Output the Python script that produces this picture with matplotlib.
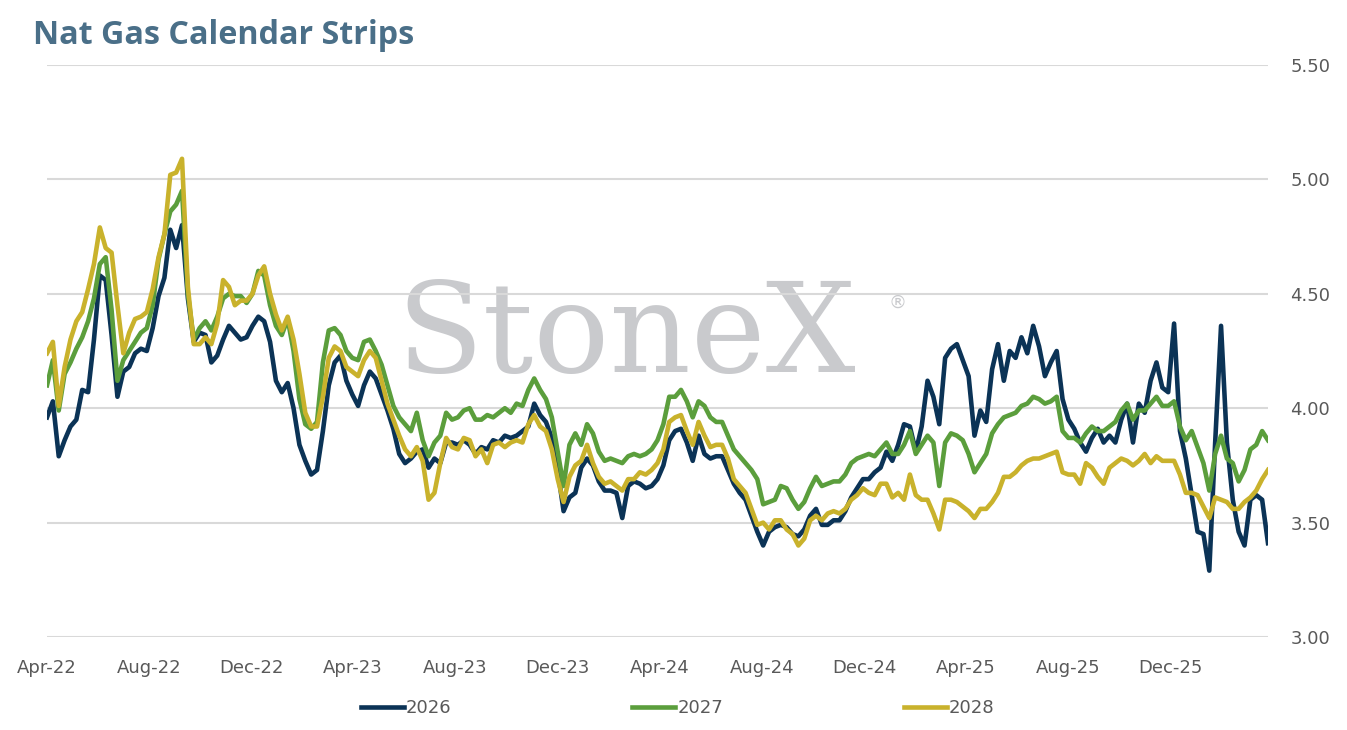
import matplotlib
matplotlib.use('Agg')
import matplotlib.pyplot as plt
import matplotlib.dates as mdates
import numpy as np
import pandas as pd

# weekly closes, Apr-22 .. Mar-26
dates = pd.date_range('2022-04-01', periods=209, freq='7D')

cal_2026 = [
    3.96, 4.03, 3.79, 3.86, 3.92, 3.95, 4.08, 4.07, 4.30, 4.58,
    4.56, 4.32, 4.05, 4.16, 4.18, 4.24, 4.26, 4.25, 4.35, 4.49,
    4.57, 4.78, 4.70, 4.80, 4.48, 4.29, 4.33, 4.32, 4.20, 4.23,
    4.30, 4.36, 4.33, 4.30, 4.31, 4.36, 4.40, 4.38, 4.29, 4.12,
    4.07, 4.11, 4.00, 3.84, 3.77, 3.71, 3.73, 3.90, 4.10, 4.20,
    4.23, 4.12, 4.06, 4.01, 4.10, 4.16, 4.13, 4.06, 3.99, 3.91,
    3.80, 3.76, 3.78, 3.81, 3.82, 3.74, 3.78, 3.76, 3.85, 3.85,
    3.84, 3.86, 3.84, 3.80, 3.83, 3.82, 3.86, 3.85, 3.88, 3.87,
    3.88, 3.90, 3.92, 4.02, 3.97, 3.94, 3.87, 3.73, 3.55, 3.61,
    3.63, 3.74, 3.78, 3.75, 3.68, 3.64, 3.64, 3.63, 3.52, 3.66,
    3.68, 3.67, 3.65, 3.66, 3.69, 3.75, 3.86, 3.90, 3.91, 3.85,
    3.77, 3.88, 3.80, 3.78, 3.79, 3.79, 3.73, 3.67, 3.63, 3.60,
    3.53, 3.46, 3.40, 3.46, 3.48, 3.49, 3.48, 3.45, 3.44, 3.47,
    3.53, 3.56, 3.49, 3.49, 3.51, 3.51, 3.55, 3.61, 3.65, 3.69,
    3.69, 3.72, 3.74, 3.81, 3.77, 3.84, 3.93, 3.92, 3.81, 3.92,
    4.12, 4.05, 3.93, 4.22, 4.26, 4.28, 4.21, 4.14, 3.88, 3.99,
    3.94, 4.17, 4.28, 4.12, 4.25, 4.22, 4.31, 4.24, 4.36, 4.27,
    4.14, 4.20, 4.25, 4.04, 3.95, 3.91, 3.85, 3.81, 3.87, 3.91,
    3.85, 3.88, 3.85, 3.95, 4.02, 3.85, 4.02, 3.98, 4.12, 4.20,
    4.09, 4.07, 4.37, 3.90, 3.78, 3.62, 3.46, 3.45, 3.29, 3.85,
    4.36, 3.85, 3.60, 3.46, 3.40, 3.60, 3.62, 3.60, 3.41,
]

cal_2027 = [
    4.10, 4.21, 3.99, 4.15, 4.20, 4.26, 4.31, 4.38, 4.48, 4.63,
    4.66, 4.43, 4.12, 4.21, 4.25, 4.29, 4.33, 4.35, 4.45, 4.65,
    4.76, 4.86, 4.89, 4.95, 4.50, 4.30, 4.35, 4.38, 4.34, 4.40,
    4.48, 4.50, 4.49, 4.49, 4.46, 4.50, 4.60, 4.58, 4.45, 4.36,
    4.32, 4.39, 4.25, 4.04, 3.93, 3.91, 3.94, 4.20, 4.34, 4.35,
    4.32, 4.25, 4.22, 4.21, 4.29, 4.30, 4.25, 4.19, 4.10, 4.01,
    3.96, 3.93, 3.90, 3.98, 3.86, 3.79, 3.85, 3.88, 3.98, 3.95,
    3.96, 3.99, 4.00, 3.95, 3.95, 3.97, 3.96, 3.98, 4.00, 3.98,
    4.02, 4.01, 4.08, 4.13, 4.08, 4.04, 3.96, 3.81, 3.66, 3.84,
    3.89, 3.84, 3.93, 3.89, 3.81, 3.77, 3.78, 3.77, 3.76, 3.79,
    3.80, 3.79, 3.80, 3.82, 3.86, 3.93, 4.05, 4.05, 4.08, 4.03,
    3.96, 4.03, 4.01, 3.96, 3.94, 3.94, 3.88, 3.82, 3.79, 3.76,
    3.73, 3.69, 3.58, 3.59, 3.60, 3.66, 3.65, 3.60, 3.56, 3.59,
    3.65, 3.70, 3.66, 3.67, 3.68, 3.68, 3.71, 3.76, 3.78, 3.79,
    3.80, 3.79, 3.82, 3.85, 3.80, 3.80, 3.84, 3.90, 3.80, 3.84,
    3.88, 3.85, 3.66, 3.85, 3.89, 3.88, 3.86, 3.80, 3.72, 3.76,
    3.80, 3.89, 3.93, 3.96, 3.97, 3.98, 4.01, 4.02, 4.05, 4.04,
    4.02, 4.03, 4.05, 3.90, 3.87, 3.87, 3.85, 3.89, 3.92, 3.90,
    3.90, 3.92, 3.94, 3.99, 4.02, 3.95, 3.99, 3.99, 4.02, 4.05,
    4.01, 4.01, 4.03, 3.92, 3.86, 3.90, 3.83, 3.76, 3.64, 3.80,
    3.88, 3.78, 3.76, 3.68, 3.73, 3.82, 3.84, 3.90, 3.86,
]

cal_2028 = [
    4.24, 4.29, 4.01, 4.18, 4.30, 4.38, 4.42, 4.52, 4.63, 4.79,
    4.70, 4.68, 4.45, 4.24, 4.33, 4.39, 4.40, 4.42, 4.52, 4.66,
    4.76, 5.02, 5.03, 5.09, 4.53, 4.28, 4.28, 4.31, 4.28, 4.37,
    4.56, 4.53, 4.45, 4.47, 4.47, 4.50, 4.58, 4.62, 4.50, 4.41,
    4.34, 4.40, 4.30, 4.15, 3.98, 3.92, 3.92, 4.05, 4.22, 4.27,
    4.25, 4.18, 4.16, 4.14, 4.21, 4.25, 4.22, 4.12, 4.02, 3.95,
    3.88, 3.82, 3.79, 3.83, 3.77, 3.60, 3.63, 3.76, 3.87, 3.83,
    3.82, 3.87, 3.86, 3.79, 3.82, 3.76, 3.84, 3.85, 3.83, 3.85,
    3.86, 3.85, 3.93, 3.97, 3.92, 3.90, 3.82, 3.69, 3.59, 3.70,
    3.75, 3.77, 3.84, 3.76, 3.70, 3.67, 3.68, 3.66, 3.64, 3.69,
    3.69, 3.72, 3.71, 3.73, 3.76, 3.82, 3.94, 3.96, 3.97, 3.90,
    3.84, 3.94, 3.88, 3.83, 3.84, 3.84, 3.78, 3.69, 3.66, 3.63,
    3.56, 3.49, 3.50, 3.47, 3.51, 3.51, 3.47, 3.45, 3.40, 3.43,
    3.51, 3.53, 3.51, 3.54, 3.55, 3.54, 3.56, 3.60, 3.62, 3.65,
    3.63, 3.62, 3.67, 3.67, 3.61, 3.63, 3.60, 3.71, 3.62, 3.60,
    3.60, 3.54, 3.47, 3.60, 3.60, 3.59, 3.57, 3.55, 3.52, 3.56,
    3.56, 3.59, 3.63, 3.70, 3.70, 3.72, 3.75, 3.77, 3.78, 3.78,
    3.79, 3.80, 3.81, 3.72, 3.71, 3.71, 3.67, 3.76, 3.74, 3.70,
    3.67, 3.74, 3.76, 3.78, 3.77, 3.75, 3.77, 3.80, 3.76, 3.79,
    3.77, 3.77, 3.77, 3.71, 3.63, 3.63, 3.62, 3.57, 3.52, 3.61,
    3.60, 3.59, 3.56, 3.56, 3.59, 3.61, 3.64, 3.69, 3.73,
]

series = [('2026', cal_2026, '#0b3356'),
          ('2027', cal_2027, '#5b9e3c'),
          ('2028', cal_2028, '#c9b22c')]

grey = '#595959'

fig = plt.figure(figsize=(13.47, 7.30), dpi=100)
ax = fig.add_axes([47 / 1347, 1 - 637 / 730, (1268 - 47) / 1347, (637 - 65) / 730])

for label, vals, col in series:
    ax.plot(dates, vals, color=col, lw=3.3, label=label, zorder=3,
            solid_joinstyle='round')

ax.set_ylim(3.0, 5.5)
ax.set_yticks(np.arange(3.0, 5.51, 0.5))
ax.yaxis.set_major_formatter(matplotlib.ticker.FormatStrFormatter('%.2f'))
ax.yaxis.tick_right()
ax.set_xlim(dates[0], dates[-1])
ax.xaxis.set_major_locator(mdates.MonthLocator(bymonth=[4, 8, 12]))
ax.xaxis.set_major_formatter(mdates.DateFormatter('%b-%y'))
ax.tick_params(axis='both', length=0, labelsize=13, labelcolor=grey)
ax.tick_params(axis='y', pad=16)
ax.tick_params(axis='x', pad=16)
ax.grid(axis='y', color='#d9d9d9', lw=1.5, zorder=0)
ax.set_axisbelow(True)
for s in ax.spines.values():
    s.set_visible(False)

# watermark
ax.text(0.286, 0.464, 'StoneX', transform=ax.transAxes, fontsize=91,
        family='DejaVu Serif', color='#c9cacd', ha='left', va='baseline', zorder=0.5)
ax.text(0.689, 0.585, '®', transform=ax.transAxes, fontsize=13,
        color='#c9cacd', ha='left', va='center', zorder=0.5)

fig.text(33 / 1347, 1 - 36 / 730, 'Nat Gas Calendar Strips', fontsize=23.2,
         fontweight='bold', family='Open Sans', color='#4a6f88', va='center', ha='left')

fig.legend(loc='center', bbox_to_anchor=(0.503, 1 - 708 / 730), ncol=3,
           frameon=False, fontsize=13, labelcolor=grey, handlelength=2.4,
           handletextpad=0.1, columnspacing=10.0)

fig.savefig('out.png', dpi=100)
